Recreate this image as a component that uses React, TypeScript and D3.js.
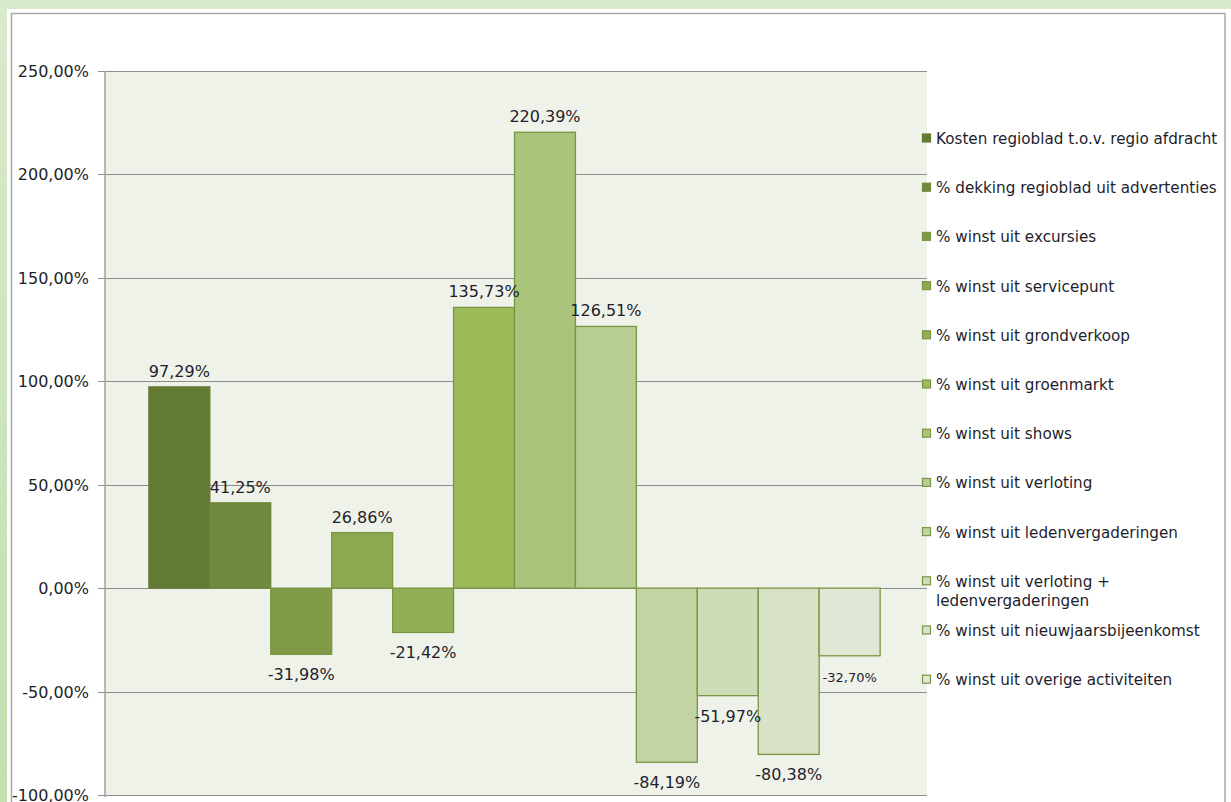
import React from "react";
import * as d3 from "d3";

const seriesNames: string[] = [
  "Kosten regioblad t.o.v. regio afdracht",
  "% dekking regioblad uit advertenties",
  "% winst uit excursies",
  "% winst uit servicepunt",
  "% winst uit grondverkoop",
  "% winst uit groenmarkt",
  "% winst uit shows",
  "% winst uit verloting",
  "% winst uit ledenvergaderingen",
  "% winst uit verloting + ledenvergaderingen",
  "% winst uit nieuwjaarsbijeenkomst",
  "% winst uit overige activiteiten",
];

const seriesValues: number[] = [
  97.29, 41.25, -31.98, 26.86, -21.42, 135.73, 220.39, 126.51, -84.19, -51.97, -80.38, -32.7,
];

const yTicks: number[] = [250, 200, 150, 100, 50, 0, -50, -100];

const fills: string[] = [
  "#637a35", "#70893d", "#809a48", "#8ba94f", "#91b055", "#9bbb59",
  "#abc47b", "#b8cd93", "#c3d4a4", "#cddbb6", "#d8e2c6", "#e0e8d5",
];
const strokes: string[] = [
  "#637a35", "#70893d", "#7a9544", "#7a9544", "#7a9544", "#7a9544",
  "#7a9544", "#7a9544", "#7a9544", "#7a9544", "#7a9544", "#7a9544",
];
const labelSizes: number[] = [16, 16, 16, 16, 16, 16, 16, 16, 16, 16, 16, 13];

const legendLines: string[][] = seriesNames.map((n) =>
  n === "% winst uit verloting + ledenvergaderingen"
    ? ["% winst uit verloting +", "ledenvergaderingen"]
    : [n]
);

const nl = d3.formatLocale({
  decimal: ",",
  thousands: ".",
  grouping: [3],
  currency: ["€", ""],
  minus: "-",
});
const fmt = (v: number) => nl.format(".2f")(v) + "%";

export default function App() {
  const W = 1231;
  const H = 802;
  const plotL = 105;
  const plotR = 927;
  const plotT = 71;
  const plotB = 795;
  const font = "'DejaVu Sans', Verdana, sans-serif";
  const textColor = "#1e1e2c";

  const y = d3.scaleLinear().domain([-100, 250]).range([plotB, plotT]);
  const x = d3
    .scaleBand<string>()
    .domain(seriesNames)
    .range([plotL, 924])
    .paddingInner(0)
    .paddingOuter(0.72);

  const legendY0 = 144;
  const legendStep = 49.2;

  return (
    <svg
      width={W}
      height={H}
      style={{ position: "absolute", left: 0, top: 0, display: "block" }}
      fontFamily={font}
    >
      <defs>
        <linearGradient id="lstrip" x1="0" y1="0" x2="0" y2="1">
          <stop offset="0" stopColor="#d8eacc" />
          <stop offset="1" stopColor="#c2dfae" />
        </linearGradient>
      </defs>
      <rect x={0} y={0} width={W} height={H} fill="#d8eacc" />
      <rect x={0} y={0} width={7} height={H} fill="url(#lstrip)" />
      <rect x={7} y={9} width={W - 7} height={H - 9} fill="#ffffff" />
      <rect
        x={11.5}
        y={13.5}
        width={1225 - 11.5}
        height={H + 10}
        fill="#ffffff"
        stroke="#a8a8a8"
        strokeWidth={1.5}
      />

      {/* plot area */}
      <rect x={plotL} y={plotT} width={plotR - plotL} height={plotB - plotT} fill="#eff2e9" />

      {/* gridlines + ticks */}
      {yTicks.map((t) => (
        <g key={t}>
          <line
            x1={98}
            x2={plotR}
            y1={Math.round(y(t)) + 0.5}
            y2={Math.round(y(t)) + 0.5}
            stroke="#8c8c8c"
            strokeWidth={1.2}
          />
          <text
            x={89}
            y={y(t) + 6}
            textAnchor="end"
            fontSize={16}
            fill={textColor}
          >
            {fmt(t)}
          </text>
        </g>
      ))}
      <line x1={plotL} x2={plotL} y1={plotT} y2={plotB + 2} stroke="#a6a6a6" strokeWidth={1.6} />

      {/* bars */}
      {seriesNames.map((name, i) => {
        const v = seriesValues[i];
        const x0 = x(name) as number;
        const bw = x.bandwidth();
        const y0 = y(Math.max(0, v));
        const y1 = y(Math.min(0, v));
        return (
          <rect
            key={name}
            x={x0}
            y={y0}
            width={bw}
            height={y1 - y0}
            fill={fills[i]}
            stroke={strokes[i]}
            strokeWidth={1.3}
          />
        );
      })}

      {/* data labels */}
      {seriesNames.map((name, i) => {
        const v = seriesValues[i];
        const cx = (x(name) as number) + x.bandwidth() / 2;
        const ly = v >= 0 ? y(v) - 10 : y(v) + 26;
        return (
          <text
            key={name}
            x={cx}
            y={ly}
            textAnchor="middle"
            fontSize={labelSizes[i]}
            fill={textColor}
          >
            {fmt(v)}
          </text>
        );
      })}

      {/* legend */}
      {seriesNames.map((name, i) => {
        const by = legendY0 + i * legendStep;
        return (
          <g key={name}>
            <rect
              x={922.5}
              y={by - 10}
              width={8}
              height={8}
              fill={fills[i]}
              stroke={strokes[i]}
              strokeWidth={1.2}
            />
            <text x={936} y={by} fontSize={15.2} fill={textColor}>
              {legendLines[i].map((ln, j) => (
                <tspan key={j} x={936} dy={j === 0 ? 0 : 19}>
                  {ln}
                </tspan>
              ))}
            </text>
          </g>
        );
      })}
    </svg>
  );
}
